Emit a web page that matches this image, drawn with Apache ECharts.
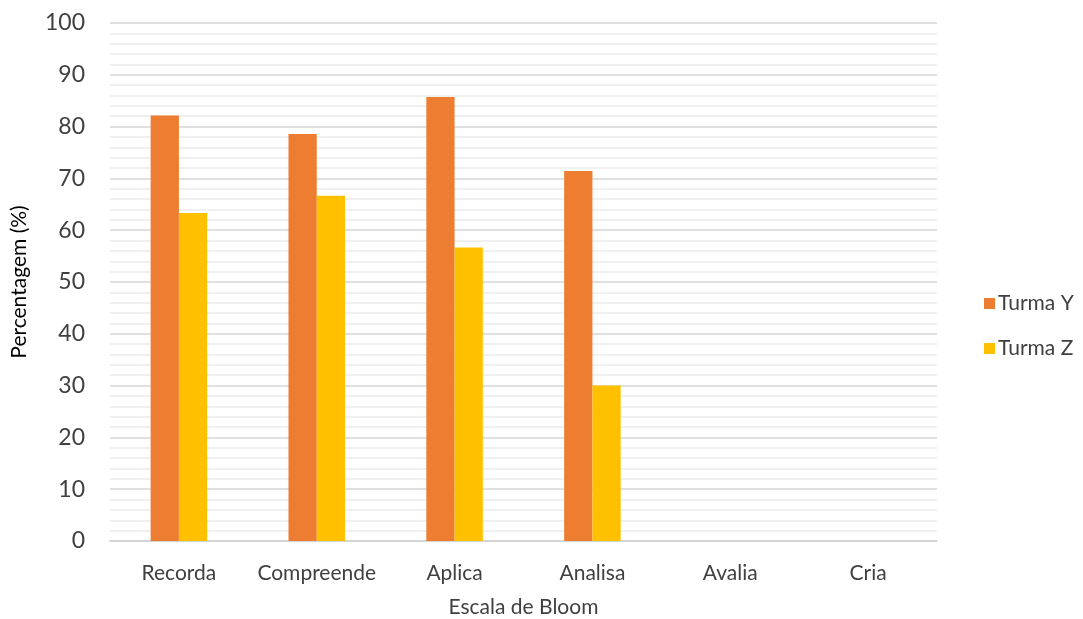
<!DOCTYPE html>
<html>
<head>
<meta charset="utf-8">
<script src="https://cdn.jsdelivr.net/npm/echarts@6/dist/echarts.min.js"></script>
<style>
html, body { margin: 0; padding: 0; background: #fff; overflow: hidden; }
#chart { width: 1083px; height: 619px; }
</style>
</head>
<body>
<div id="chart"></div>
<script>
// Bloom taxonomy levels and class results (%)
const categories = ['Recorda', 'Compreende', 'Aplica', 'Analisa', 'Avalia', 'Cria'];
const turmaY = [82.14, 78.57, 85.71, 71.43, 0, 0];
const turmaZ = [63.33, 66.67, 56.67, 30.0, 0, 0];
const seriesNames = ['Turma Y', 'Turma Z'];

const FONT = 'Lato, "Open Sans", sans-serif';
const TEXT = '#404040';

const chart = echarts.init(document.getElementById('chart'), null, { renderer: 'canvas' });
chart.setOption({
  animation: false,
  textStyle: { fontFamily: FONT },
  grid: { left: 110, right: 146, top: 23, bottom: 78, containLabel: false, outerBoundsMode: 'none' },
  legend: {
    orient: 'vertical',
    left: 979,
    top: 288,
    itemWidth: 11,
    itemHeight: 11,
    itemGap: 24,
    icon: 'rect',
    textStyle: { fontFamily: FONT, fontSize: 21, color: TEXT, padding: [0, 0, 0, -2] },
    data: seriesNames
  },
  xAxis: {
    type: 'category',
    data: categories,
    name: 'Escala de Bloom',
    nameLocation: 'middle',
    nameGap: 56,
    nameTextStyle: { fontFamily: FONT, fontSize: 21, color: TEXT },
    axisLine: { lineStyle: { color: '#d0d0d0', width: 1.5 } },
    axisTick: { show: false },
    axisLabel: { interval: 0, fontFamily: FONT, fontSize: 21, color: TEXT, margin: 22 }
  },
  yAxis: {
    type: 'value',
    min: 0,
    max: 100,
    interval: 10,
    name: 'Percentagem (%)',
    nameLocation: 'middle',
    nameGap: 80,
    nameRotate: 90,
    nameTextStyle: { fontFamily: FONT, fontSize: 21, color: '#000' },
    axisLine: { show: false },
    axisTick: { show: false },
    axisLabel: { fontFamily: FONT, fontSize: 23, color: TEXT, margin: 25 },
    splitLine: { lineStyle: { color: '#d6d6d6', width: 1.5 } },
    minorTick: { show: false, splitNumber: 5 },
    minorSplitLine: { show: true, lineStyle: { color: '#ececec', width: 1.5 } }
  },
  series: [
    {
      name: seriesNames[0],
      type: 'bar',
      data: turmaY,
      barGap: '0%',
      barCategoryGap: '59%',
      itemStyle: { color: '#ED7D31' }
    },
    {
      name: seriesNames[1],
      type: 'bar',
      data: turmaZ,
      barGap: '0%',
      barCategoryGap: '59%',
      itemStyle: { color: '#FFC000' }
    }
  ]
});
</script>
</body>
</html>
